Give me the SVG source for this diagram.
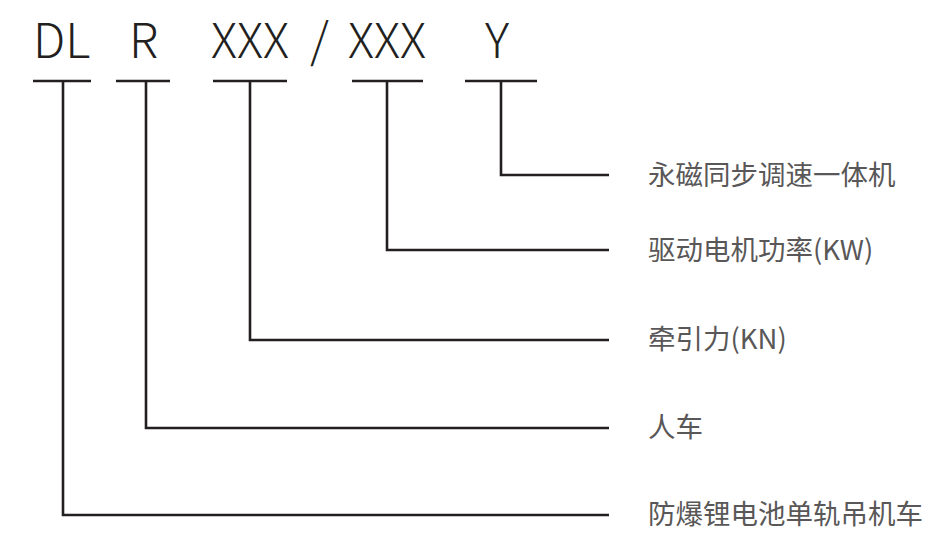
<svg xmlns="http://www.w3.org/2000/svg" width="951" height="556" viewBox="0 0 951 556">
<style>
.code{font-family:"Noto Sans CJK SC","Noto Sans",sans-serif;font-weight:300;font-size:48px;fill:#231f20}
.lbl{font-family:"Noto Sans CJK SC","Noto Sans",sans-serif;font-size:27.5px;fill:#595757}
.bar{stroke:#231f20;stroke-width:2.6;fill:none}
.conn{stroke:#231f20;stroke-width:2.6;fill:none}
</style>
<rect width="951" height="556" fill="#fff"/>
<g id="code-DL"><text class="code" x="33" y="58">DL</text><line class="bar" x1="33" y1="81" x2="91" y2="81"/></g>
<g id="code-R"><text class="code" x="129" y="58">R</text><line class="bar" x1="116" y1="81" x2="170" y2="81"/></g>
<g id="code-XXX1"><text class="code" x="211" y="58">XXX</text><line class="bar" x1="213" y1="81" x2="287" y2="81"/></g>
<g id="slash"><text class="code" x="310" y="58">/</text></g>
<g id="code-XXX2"><text class="code" x="348" y="58">XXX</text><line class="bar" x1="352" y1="81" x2="423" y2="81"/></g>
<g id="code-Y"><text class="code" x="485" y="58">Y</text><line class="bar" x1="465" y1="81" x2="537" y2="81"/></g>
<g id="connectors">
<path class="conn" d="M501,81 V175 H609"/>
<path class="conn" d="M387,81 V250 H609"/>
<path class="conn" d="M250,81 V340 H609"/>
<path class="conn" d="M146,81 V428 H609"/>
<path class="conn" d="M63,81 V515 H609"/>
</g>
<g id="label-Y"><text class="lbl" x="648" y="184.5">永磁同步调速一体机</text></g>
<g id="label-XXX2"><text class="lbl" x="648" y="259.5">驱动电机功率(KW)</text></g>
<g id="label-XXX1"><text class="lbl" x="648" y="348.5">牵引力(KN)</text></g>
<g id="label-R"><text class="lbl" x="648" y="437">人车</text></g>
<g id="label-DL"><text class="lbl" x="648" y="523.5">防爆锂电池单轨吊机车</text></g>
</svg>
